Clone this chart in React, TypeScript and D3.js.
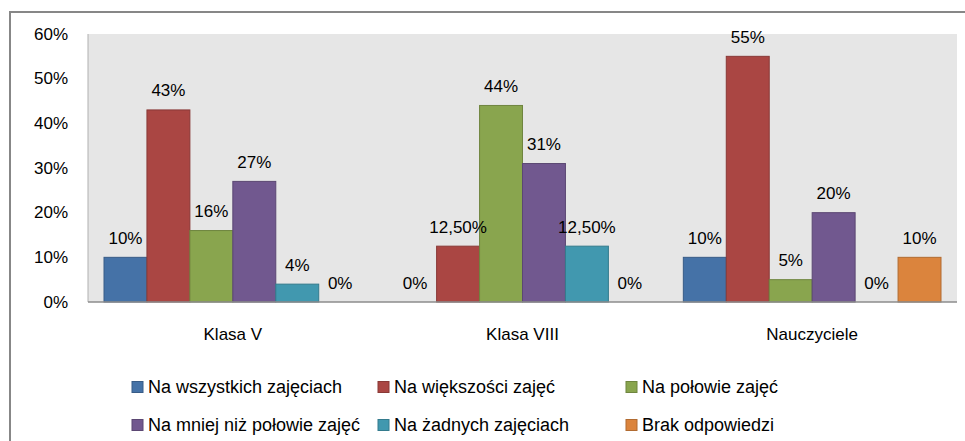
import React from "react";
import * as d3 from "d3";

const categories = ["Klasa V", "Klasa VIII", "Nauczyciele"];
const seriesNames = [
  "Na wszystkich zajęciach",
  "Na większości zajęć",
  "Na połowie zajęć",
  "Na mniej niż połowie zajęć",
  "Na żadnych zajęciach",
  "Brak odpowiedzi",
];
const seriesColors = ["#4572A7", "#AA4643", "#89A54E", "#71588F", "#4198AF", "#DB843D"];
// values per category, in series order (percent)
const klasaV = [10, 43, 16, 27, 4, 0];
const klasaVIII = [0, 12.5, 44, 31, 12.5, 0];
const nauczyciele = [10, 55, 5, 20, 0, 10];
const valuesByCategory = [klasaV, klasaVIII, nauczyciele];
const yTicks = [0, 10, 20, 30, 40, 50, 60];

const W = 965;
const H = 441;
const plot = { left: 88, right: 957, top: 34, bottom: 302 };
const FONT = "'Liberation Sans', Arial, sans-serif";

const fmt = (v: number) =>
  Number.isInteger(v) ? `${v}%` : `${v.toFixed(2).replace(".", ",")}%`;

export default function App() {
  const x0 = d3.scaleBand<string>().domain(categories).range([plot.left, plot.right]).padding(0);
  const bw = x0.bandwidth();
  const x1 = d3
    .scaleBand<string>()
    .domain(seriesNames)
    .range([16, bw - 16])
    .padding(0);
  const y = d3.scaleLinear().domain([0, 60]).range([plot.bottom, plot.top]);

  const legendCols = [132, 378, 626];
  const legendRows = [387, 425];

  return (
    <svg
      width={W}
      height={H}
      style={{ position: "absolute", left: 0, top: 0, background: "#fff" }}
      fontFamily={FONT}
    >
      <rect x={0} y={0} width={W} height={H} fill="#fff" />
      <rect x={10} y={12} width={980} height={460} fill="none" stroke="#878787" strokeWidth={2} />
      <rect
        x={plot.left}
        y={plot.top}
        width={plot.right - plot.left}
        height={plot.bottom - plot.top}
        fill="#e6e6e6"
      />
      {/* y axis labels */}
      {yTicks.map((t) => (
        <text
          key={t}
          x={68}
          y={y(t)}
          textAnchor="end"
          dominantBaseline="central"
          fontSize={17}
          fill="#000"
        >
          {t}%
        </text>
      ))}
      {/* bars */}
      {categories.map((c, ci) => (
        <g key={c} transform={`translate(${x0(c)},0)`}>
          {valuesByCategory[ci].map((v, si) => {
            const s = seriesNames[si];
            const bx = x1(s)!;
            const col = seriesColors[si];
            return (
              <g key={s}>
                {v > 0 && (
                  <rect
                    x={bx}
                    y={y(v)}
                    width={x1.bandwidth()}
                    height={y(0) - y(v)}
                    fill={col}
                    stroke={d3.color(col)!.darker(0.6).formatHex()}
                    strokeWidth={1}
                  />
                )}
              </g>
            );
          })}
        </g>
      ))}
      {/* axis lines */}
      <line x1={plot.left} x2={plot.left} y1={plot.top} y2={plot.bottom} stroke="#b0b0b0" strokeWidth={1} />
      <line x1={plot.left} x2={plot.right} y1={plot.bottom} y2={plot.bottom} stroke="#8c8c8c" strokeWidth={1.5} />
      {/* data labels */}
      {categories.map((c, ci) => (
        <g key={c + "l"} transform={`translate(${x0(c)},0)`}>
          {valuesByCategory[ci].map((v, si) => {
            const s = seriesNames[si];
            return (
              <text
                key={s}
                x={x1(s)! + x1.bandwidth() / 2}
                y={y(v) - 13.5}
                textAnchor="middle"
                fontSize={17}
                fill="#000"
              >
                {fmt(v)}
              </text>
            );
          })}
        </g>
      ))}
      {/* category labels */}
      {categories.map((c) => (
        <text key={c + "c"} x={x0(c)! + bw / 2} y={340} textAnchor="middle" fontSize={17} fill="#000">
          {c}
        </text>
      ))}
      {/* legend */}
      {seriesNames.map((s, i) => {
        const lx = legendCols[i % 3];
        const ly = legendRows[Math.floor(i / 3)];
        return (
          <g key={s + "leg"}>
            <rect
              x={lx}
              y={ly - 5.5}
              width={11}
              height={11}
              fill={seriesColors[i]}
              stroke={d3.color(seriesColors[i])!.darker(0.6).formatHex()}
              strokeWidth={1}
            />
            <text x={lx + 16} y={ly} dominantBaseline="central" fontSize={18} fill="#000">
              {s}
            </text>
          </g>
        );
      })}
    </svg>
  );
}
